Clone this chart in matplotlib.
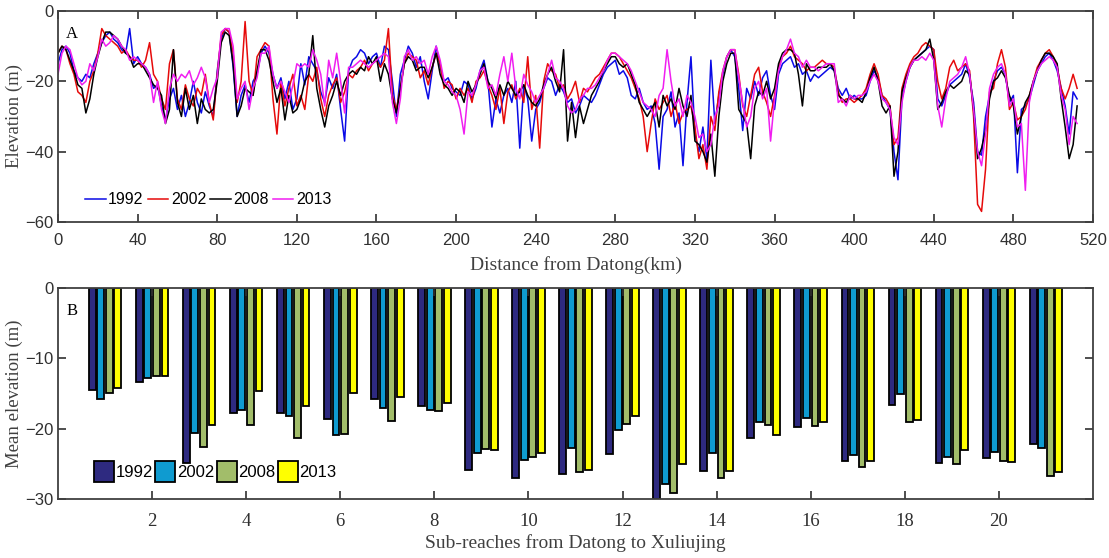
import numpy as np
import matplotlib.pyplot as plt

# longitudinal profiles, sampled every 2 km from Datong
dist_km = np.arange(0, 513, 2)

elev_1992 = [-15, -11, -10, -12, -17, -19, -20, -18, -19, -15, -12, -9, -7, -6, -8, -9, -11, -12, -5, -15,
             -13, -15, -16, -18, -22, -21, -27, -31, -25, -22, -28, -24, -30, -26, -20, -26, -29, -23, -27, -30,
             -17, -8, -5, -6, -16, -30, -24, -21, -26, -20, -18, -12, -10, -12, -18, -22, -19, -25, -20, -28,
             -25, -15, -21, -13, -15, -17, -23, -26, -19, -22, -18, -28, -37, -17, -14, -13, -11, -12, -15, -13,
             -12, -16, -10, -11, -20, -30, -18, -14, -10, -12, -16, -13, -20, -25, -17, -10, -16, -20, -19, -22,
             -23, -24, -20, -21, -25, -22, -17, -14, -20, -33, -25, -29, -24, -22, -26, -20, -39, -21, -25, -37,
             -28, -26, -22, -19, -20, -24, -21, -23, -26, -25, -29, -27, -24, -25, -26, -24, -21, -18, -16, -15,
             -14, -18, -17, -19, -24, -25, -22, -26, -28, -27, -32, -45, -30, -28, -23, -33, -29, -44, -26, -13,
             -35, -40, -33, -42, -14, -32, -24, -18, -13, -11, -13, -22, -34, -22, -25, -20, -24, -19, -17, -24,
             -28, -18, -15, -14, -13, -16, -15, -18, -17, -20, -18, -19, -18, -17, -16, -17, -22, -24, -22, -25,
             -24, -25, -25, -24, -20, -17, -19, -24, -26, -28, -40, -48, -25, -20, -16, -14, -13, -12, -11, -10,
             -11, -25, -27, -24, -21, -20, -19, -18, -15, -19, -26, -40, -41, -30, -24, -20, -17, -16, -18, -26,
             -24, -46, -28, -27, -25, -21, -17, -15, -13, -12, -14, -17, -22, -27, -35, -23, -25]
elev_2002 = [-12, -10, -11, -15, -18, -23, -24, -26, -20, -17, -12, -5, -7, -8, -9, -10, -12, -11, -13, -14,
             -14, -16, -14, -9, -18, -20, -25, -28, -15, -11, -25, -28, -21, -25, -27, -22, -24, -18, -26, -31,
             -18, -7, -5, -6, -12, -26, -20, -3, -20, -24, -13, -11, -9, -10, -25, -35, -20, -27, -22, -18,
             -27, -24, -28, -18, -20, -16, -25, -30, -24, -21, -19, -26, -23, -18, -19, -17, -16, -14, -17, -15,
             -14, -16, -14, -5, -24, -28, -22, -15, -12, -13, -14, -19, -17, -21, -16, -12, -15, -22, -20, -21,
             -25, -22, -24, -22, -26, -20, -19, -17, -21, -24, -28, -22, -32, -23, -21, -25, -22, -26, -13, -28,
             -24, -39, -20, -15, -17, -18, -22, -21, -25, -23, -20, -26, -22, -23, -21, -19, -18, -16, -14, -12,
             -12, -13, -15, -17, -19, -22, -25, -30, -40, -32, -25, -28, -26, -24, -30, -26, -32, -29, -28, -27,
             -33, -42, -38, -45, -30, -34, -23, -17, -13, -11, -11, -18, -27, -30, -24, -18, -16, -23, -26, -30,
             -24, -16, -13, -12, -10, -13, -14, -15, -17, -16, -16, -15, -14, -15, -15, -16, -23, -26, -25, -25,
             -26, -25, -24, -22, -18, -15, -18, -24, -25, -27, -38, -36, -22, -18, -15, -13, -12, -10, -9, -10,
             -11, -20, -25, -22, -16, -14, -17, -16, -15, -17, -30, -55, -57, -45, -23, -22, -15, -11, -16, -28,
             -26, -31, -30, -28, -24, -20, -16, -14, -12, -11, -13, -16, -22, -25, -22, -18, -22]
elev_2008 = [-12, -10, -11, -14, -17, -21, -22, -29, -25, -18, -13, -9, -6, -6, -7, -8, -10, -12, -13, -16,
             -15, -15, -17, -19, -21, -22, -24, -32, -28, -11, -26, -30, -22, -28, -24, -32, -25, -28, -29, -28,
             -20, -9, -6, -7, -15, -30, -27, -22, -23, -24, -17, -11, -11, -14, -20, -26, -22, -31, -24, -29,
             -28, -25, -20, -18, -7, -22, -28, -33, -27, -24, -20, -24, -20, -18, -17, -18, -16, -17, -13, -15,
             -13, -20, -15, -18, -25, -29, -22, -15, -13, -14, -17, -16, -16, -19, -16, -12, -18, -21, -22, -24,
             -22, -23, -26, -20, -23, -21, -18, -15, -20, -22, -25, -21, -24, -20, -22, -24, -23, -21, -24, -26,
             -27, -25, -21, -18, -16, -20, -23, -11, -37, -26, -36, -27, -32, -28, -24, -22, -20, -17, -15, -13,
             -13, -15, -16, -15, -18, -21, -26, -28, -30, -28, -26, -33, -24, -27, -25, -28, -22, -27, -30, -24,
             -37, -38, -40, -43, -35, -47, -30, -20, -15, -12, -12, -28, -30, -32, -42, -27, -23, -24, -20, -25,
             -22, -15, -12, -11, -11, -12, -18, -27, -15, -17, -17, -16, -16, -16, -15, -17, -24, -25, -26, -24,
             -25, -25, -26, -23, -19, -16, -20, -27, -29, -27, -47, -40, -23, -19, -16, -14, -13, -12, -11, -8,
             -14, -28, -26, -23, -21, -22, -21, -20, -17, -18, -28, -42, -39, -34, -25, -20, -19, -17, -19, -24,
             -27, -35, -30, -26, -24, -20, -17, -14, -12, -12, -13, -15, -25, -33, -42, -38, -27]
elev_2013 = [-18, -12, -10, -11, -15, -19, -21, -20, -15, -17, -13, -8, -10, -9, -7, -8, -10, -11, -14, -13,
             -14, -15, -16, -18, -26, -20, -28, -32, -22, -18, -20, -18, -19, -17, -21, -19, -16, -19, -26, -22,
             -19, -6, -5, -5, -10, -25, -22, -20, -28, -22, -19, -12, -12, -10, -18, -22, -20, -23, -26, -21,
             -15, -16, -15, -16, -11, -14, -18, -27, -14, -19, -12, -20, -29, -16, -16, -15, -14, -15, -16, -15,
             -14, -13, -12, -13, -26, -32, -25, -13, -11, -14, -13, -15, -14, -18, -13, -10, -14, -20, -21, -23,
             -24, -28, -35, -23, -24, -21, -17, -16, -22, -21, -24, -18, -13, -20, -12, -22, -25, -18, -21, -23,
             -26, -24, -22, -18, -14, -19, -20, -22, -27, -29, -28, -25, -24, -22, -22, -21, -19, -17, -14, -12,
             -12, -13, -14, -15, -17, -20, -23, -26, -27, -28, -30, -24, -22, -11, -20, -27, -25, -30, -24, -26,
             -30, -36, -35, -40, -38, -30, -27, -17, -13, -11, -11, -19, -26, -33, -30, -22, -20, -25, -22, -37,
             -25, -17, -13, -11, -8, -12, -13, -16, -14, -16, -16, -17, -16, -15, -15, -15, -26, -25, -27, -24,
             -25, -24, -24, -23, -20, -18, -20, -25, -26, -28, -36, -38, -26, -20, -16, -14, -14, -13, -14, -12,
             -14, -27, -33, -25, -20, -19, -18, -16, -13, -18, -28, -40, -44, -35, -22, -18, -16, -15, -18, -27,
             -25, -33, -32, -51, -26, -20, -17, -15, -14, -13, -14, -16, -24, -28, -38, -30, -32]

# mean elevation per sub-reach
reach_no = np.arange(1, 22)
mean_1992 = [-14.5, -13.3, -24.9, -17.8, -17.8, -18.6, -15.8, -16.75, -25.9, -27.0, -26.4,
             -23.6, -30.0, -26.0, -21.3, -19.8, -24.6, -16.7, -24.9, -24.1, -22.2]
mean_2002 = [-15.8, -12.8, -20.55, -17.4, -18.2, -20.9, -17.1, -17.3, -23.5, -24.4, -22.8,
             -20.2, -27.8, -23.4, -19.1, -18.55, -23.8, -15.1, -24.0, -23.25, -22.7]
mean_2008 = [-14.95, -12.5, -22.6, -19.5, -21.3, -20.7, -18.9, -17.5, -22.9, -24.0, -26.15,
             -19.3, -29.1, -27.05, -19.5, -19.6, -25.4, -19.0, -25.0, -24.6, -26.7]
mean_2013 = [-14.2, -12.45, -19.5, -14.6, -16.8, -14.95, -15.5, -16.4, -23.1, -23.5, -25.9,
             -18.2, -25.0, -26.0, -20.9, -19.1, -24.6, -18.75, -23.0, -24.7, -26.2]

years = ['1992', '2002', '2008', '2013']

plt.rcParams['font.family'] = ['Liberation Sans', 'DejaVu Sans']
serif = 'Liberation Serif'

fig = plt.figure(figsize=(11.09, 5.58), dpi=100)
ax1 = fig.add_axes([0.0523, 0.6022, 0.9333, 0.3781])
ax2 = fig.add_axes([0.0523, 0.1057, 0.9333, 0.3782])

for ax in (ax1, ax2):
    ax.tick_params(direction='in', top=True, right=True, length=6, width=1.2, labelsize=12,
                   colors='#303030')
    for s in ax.spines.values():
        s.set_linewidth(1.3)
        s.set_color('#404040')

# panel A
line_cols = ['#0a0ae6', '#e60a0a', 'black', '#f01ef0']
for y, c, lab in zip([elev_1992, elev_2002, elev_2008, elev_2013], line_cols, years):
    ax1.plot(dist_km, y, color=c, lw=1.1, label=lab)
ax1.set_xlim(0, 520)
ax1.set_ylim(-60, 0)
ax1.set_xticks(np.arange(0, 521, 40))
ax1.set_yticks([-60, -40, -20, 0])
ax1.tick_params(axis='x', pad=8)
ax1.set_xlabel('Distance from Datong(km)', family=serif, fontsize=14, color='#404040', labelpad=6)
ax1.set_ylabel('Elevation (m)', family=serif, fontsize=13.5, color='#404040', labelpad=1)
ax1.text(0.008, 0.93, 'A', transform=ax1.transAxes, family=serif, fontsize=12, va='top')
ax1.legend(loc='lower left', bbox_to_anchor=(0.02, 0.04), ncol=4, frameon=False, fontsize=11.5,
           handlelength=1.3, handletextpad=0.15, columnspacing=0.25, borderaxespad=0)

# panel B
bar_cols = ['#2e2a80', '#0f9bd0', '#a2bd6a', '#ffff00']
slot = 0.8 / 4.4
for i, (v, c, lab) in enumerate(zip([mean_1992, mean_2002, mean_2008, mean_2013], bar_cols, years)):
    ax2.bar(reach_no + (i - 1.5) * slot, v, width=slot * 0.8, color=c, edgecolor='black',
            linewidth=1.3, label=lab)
ax2.set_xlim(0, 22)
ax2.set_ylim(-30, 0)
ax2.set_xticks(np.arange(2, 21, 2))
ax2.set_yticks([-30, -20, -10, 0])
ax2.tick_params(axis='x', pad=10)
for t in ax2.get_xticklabels():
    t.set_family(serif)
    t.set_fontsize(13.5)
ax2.set_xlabel('Sub-reaches from Datong to Xuliujing', family=serif, fontsize=14, color='#404040',
               labelpad=3)
ax2.set_ylabel('Mean elevation (m)', family=serif, fontsize=13.5, color='#404040', labelpad=1)
ax2.text(0.008, 0.93, 'B', transform=ax2.transAxes, family=serif, fontsize=12, va='top')
ax2.legend(loc='lower left', bbox_to_anchor=(0.028, 0.05), ncol=4, frameon=False, fontsize=12,
           handlelength=1.2, handleheight=1.5, handletextpad=0.1, columnspacing=0.15, borderaxespad=0)

fig.savefig('out.png', dpi=100)
